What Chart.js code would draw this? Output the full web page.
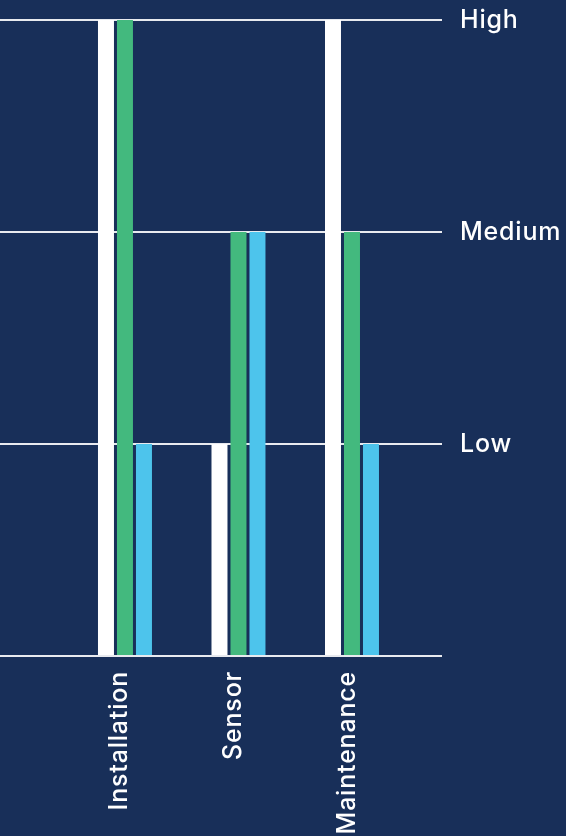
<!DOCTYPE html>
<html lang="en">
<head>
  <meta charset="UTF-8">
  <title>Impact by component</title>
  <script src="https://cdn.jsdelivr.net/npm/chart.js"></script>
  <style>
    html, body {
      margin: 0;
      padding: 0;
      background-color: #182f59;
    }
    .chart-container {
      position: relative;
      width: 566px;
      height: 836px;
    }
  </style>
</head>
<body>
  <div class="chart-container">
    <canvas id="impactChart"></canvas>
  </div>

  <script>
    // Chart data
    const categories = ['Installation', 'Sensor', 'Maintenance'];
    const levelLabels = ['', 'Low', 'Medium', 'High'];
    const seriesWhite = [3, 1, 3];
    const seriesGreen = [3, 2, 2];
    const seriesBlue = [1, 2, 1];

    const toPoints = values => values.map((v, i) => ({ x: i, y: v }));

    const font = { family: 'Inter', size: 25, weight: 500 };

    // the labels in the original are a little wider spaced than Inter
    const spacingPlugin = {
      id: 'letterSpacing',
      beforeDraw: chart => { chart.ctx.letterSpacing = '0.8px'; }
    };

    const ctx = document.getElementById('impactChart').getContext('2d');
    new Chart(ctx, {
      type: 'bar',
      plugins: [spacingPlugin],
      data: {
        datasets: [
          { data: toPoints(seriesWhite), backgroundColor: '#ffffff' },
          { data: toPoints(seriesGreen), backgroundColor: '#43b97e' },
          { data: toPoints(seriesBlue), backgroundColor: '#4dc4ec' }
        ]
      },
      options: {
        responsive: true,
        maintainAspectRatio: false,
        animation: false,
        layout: { padding: { top: 20, left: 0, right: 0, bottom: 0 } },
        datasets: {
          bar: { categoryPercentage: 0.502, barPercentage: 0.842 }
        },
        plugins: {
          legend: { display: false },
          tooltip: { enabled: false }
        },
        scales: {
          x: {
            type: 'linear',
            offset: false,
            bounds: 'data',
            min: -1.101,
            max: 2.793,
            grid: { display: false },
            border: { display: false },
            afterBuildTicks: scale => {
              scale.ticks = categories.map((c, i) => ({ value: i }));
            },
            afterFit: scale => {
              scale.height = 180;
              scale.paddingLeft = 0;
              scale.paddingRight = 0;
            },
            ticks: {
              autoSkip: false,
              minRotation: 90,
              maxRotation: 90,
              padding: 7,
              labelOffset: -5,
              color: '#ffffff',
              font: font,
              callback: value => categories[value]
            }
          },
          y: {
            position: 'right',
            min: 0,
            max: 3,
            z: 1,
            grid: {
              color: 'rgba(255,255,255,0.9)',
              lineWidth: 2,
              drawTicks: false
            },
            border: { display: false },
            afterFit: scale => {
              scale.width = 124;
              scale.paddingTop = 0;
              scale.paddingBottom = 0;
            },
            ticks: {
              stepSize: 1,
              padding: 18,
              color: '#ffffff',
              font: font,
              callback: value => levelLabels[value]
            }
          }
        }
      }
    });
  </script>
</body>
</html>
